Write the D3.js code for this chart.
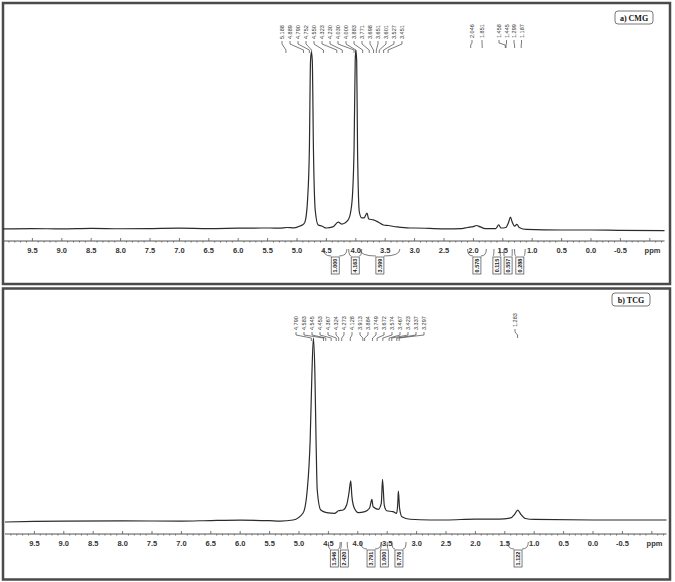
<!DOCTYPE html>
<html>
<head>
<meta charset="utf-8">
<script src="https://cdn.jsdelivr.net/npm/d3@7"></script>
<style>
  body { margin: 0; background: #fff; }
  svg { display: block; }
</style>
</head>
<body>
<script>
// ppm tick labels (same on both panels)
var ppmTicks = [9.5, 9.0, 8.5, 8.0, 7.5, 7.0, 6.5, 6.0, 5.5, 5.0, 4.5, 4.0, 3.5, 3.0, 2.5, 2.0, 1.5, 1.0, 0.5, 0.0, -0.5];

// a) CMG spectrum, [ppm, intensity %]
var cmgSpectrum = [
  [10.0, 0.6], [9.5, 0.8], [9.0, 0.6], [8.5, 0.9], [8.0, 0.7], [7.5, 0.8], [7.0, 1.0], [6.5, 0.8],
  [6.0, 1.0], [5.6, 1.1], [5.46, 1.1], [5.3, 1.0], [5.17, 1.4], [5.05, 1.2], [4.95, 2.2], [4.88, 3.5],
  [4.85, 6.5], [4.82, 17], [4.79, 44], [4.77, 94], [4.755, 99], [4.74, 94], [4.72, 44], [4.69, 11],
  [4.64, 2.8], [4.58, 2.2], [4.50, 1.1], [4.39, 1.7], [4.30, 4.4], [4.24, 3.3], [4.13, 5.6], [4.07, 13.9],
  [4.03, 44], [4.01, 94], [4.00, 100], [3.985, 94], [3.97, 44], [3.94, 10], [3.90, 6.7], [3.86, 6.7],
  [3.81, 9.4], [3.78, 6.1], [3.70, 5.6], [3.62, 4.4], [3.53, 2.8], [3.45, 2.5], [3.30, 1.7], [3.08, 1.1],
  [3.0, 1.1], [2.5, 0.6], [2.2, 0.8], [2.1, 1.4], [2.0, 1.9], [1.95, 2.5], [1.88, 1.7], [1.8, 0.8],
  [1.62, 0.8], [1.57, 2.8], [1.53, 1.1], [1.45, 1.4], [1.40, 4.4], [1.37, 7.2], [1.34, 4.4], [1.30, 2.2],
  [1.26, 3.1], [1.22, 1.4], [1.1, 0.3], [0.5, 0], [0.0, 0], [-0.5, -0.2], [-1.25, -0.3]
];
var cmgPeaksLeft = [5.188, 4.889, 4.790, 4.752, 4.550, 4.323, 4.230, 4.030, 4.000, 3.883, 3.771, 3.698, 3.651, 3.601, 3.527, 3.451];
var cmgPeaksMid = [2.046, 1.851];
var cmgPeaksRight = [1.458, 1.445, 1.299, 1.187];
// integrals: [from ppm, to ppm, value]
var cmgIntegrals = [
  [4.55, 4.15, "1.000"], [4.12, 3.90, "4.163"], [3.93, 3.25, "3.599"], [2.10, 1.78, "0.578"],
  [1.65, 1.55, "0.115"], [1.48, 1.34, "0.557"], [1.30, 1.12, "0.288"]
];

// b) TCG spectrum
var tcgSpectrum = [
  [10.0, 0], [9.5, 0.3], [9.0, 0.5], [8.0, 0.6], [7.0, 0.5], [6.5, 0.8], [6.0, 1.0], [5.5, 0.7],
  [5.32, 0.5], [5.10, 1.1], [4.93, 4.9], [4.86, 17.4], [4.81, 44.6], [4.78, 81], [4.755, 100], [4.73, 81],
  [4.71, 44.6], [4.69, 17.4], [4.63, 6.5], [4.53, 5.1], [4.39, 4.7], [4.33, 6.1], [4.25, 6.5], [4.19, 9.2],
  [4.15, 15.8], [4.12, 22.4], [4.10, 13.8], [4.06, 7.6], [3.99, 5.1], [3.88, 5.6], [3.80, 7.6], [3.76, 12.3],
  [3.74, 8.3], [3.65, 6.9], [3.60, 10.3], [3.58, 23.2], [3.55, 9.2], [3.51, 6.1], [3.40, 5.6], [3.34, 4.7],
  [3.32, 10.3], [3.31, 16.8], [3.29, 7.6], [3.25, 2.9], [3.11, 1.5], [2.77, 1.1], [2.5, 1.1], [2.0, 1.6],
  [1.6, 1.6], [1.4, 2.2], [1.33, 4.3], [1.28, 6.5], [1.23, 4.3], [1.15, 1.9], [1.0, 1.4], [0.0, 1.1], [-1.25, 1.1]
];
var tcgPeaksLeft = [4.790, 4.583, 4.545, 4.453, 4.367, 4.324, 4.273, 4.128, 3.913, 3.884, 3.749, 3.672, 3.574, 3.467, 3.423, 3.337, 3.297];
var tcgPeaksRight = [1.283];
var tcgIntegrals = [
  [4.50, 4.30, "1.546"], [4.28, 4.18, "2.420"], [3.95, 3.60, "3.791"], [3.60, 3.50, "1.000"],
  [3.42, 3.18, "0.776"], [1.45, 1.10, "1.122"]
];

var width = 675, height = 582;
var svg = d3.select("body").append("svg")
    .attr("width", width)
    .attr("height", height);

var ink = "#2b2b2b";
var sans = "Liberation Sans, Arial, sans-serif";

function drawPanel(p) {
  var g = svg.append("g");

  // frame
  g.append("rect")
      .attr("x", p.box[0]).attr("y", p.box[1])
      .attr("width", p.box[2]).attr("height", p.box[3])
      .attr("fill", "none").attr("stroke", "#4a4a4a").attr("stroke-width", 2.5);

  var x = d3.scaleLinear().domain([10, -1.25]).range(p.xRange);
  var y = d3.scaleLinear().domain([0, 100]).range([p.baseY, p.topY]);

  // axis line + ticks
  g.append("line")
      .attr("x1", x(10)).attr("x2", x(-1.25))
      .attr("y1", p.axisY).attr("y2", p.axisY)
      .attr("stroke", "#555").attr("stroke-width", 1);

  var minor = d3.range(99, -13, -1).map(function(d) { return d / 10; });
  g.append("g").selectAll("line")
      .data(minor)
      .enter().append("line")
      .attr("x1", function(d) { return x(d); })
      .attr("x2", function(d) { return x(d); })
      .attr("y1", p.axisY)
      .attr("y2", function(d) { return Math.abs(d * 2 - Math.round(d * 2)) < 0.01 ? p.axisY - 3 : p.axisY + 1.5; })
      .attr("stroke", "#555").attr("stroke-width", 0.8);

  g.append("g").selectAll("text")
      .data(ppmTicks)
      .enter().append("text")
      .attr("x", function(d) { return x(d); })
      .attr("y", p.axisY + 12)
      .attr("text-anchor", "middle")
      .attr("font-family", sans)
      .attr("font-weight", "bold")
      .attr("font-size", "7.5px")
      .attr("fill", "#333")
      .text(function(d) { return d.toFixed(1); });

  g.append("text")
      .attr("x", p.xRange[1] - 12)
      .attr("y", p.axisY + 12)
      .attr("text-anchor", "middle")
      .attr("font-family", sans)
      .attr("font-weight", "bold")
      .attr("font-size", "7.5px")
      .attr("fill", "#333")
      .text("ppm");

  // spectrum
  var line = d3.line()
      .x(function(d) { return x(d[0]); })
      .y(function(d) { return y(d[1]); })
      .curve(d3.curveMonotoneX);

  g.append("path")
      .datum(p.spectrum)
      .attr("d", line)
      .attr("fill", "none")
      .attr("stroke", ink)
      .attr("stroke-width", 1.2);

  // peak labels with leaders
  p.peakGroups.forEach(function(grp) {
    var lg = g.append("g");
    grp.values.forEach(function(v, i) {
      var lx = grp.startX + i * grp.step;
      var tx = x(v);
      lg.append("text")
          .attr("transform", "translate(" + (lx + 2) + "," + grp.textBottom + ") rotate(-90)")
          .attr("font-family", sans)
          .attr("font-size", "5.5px")
          .attr("fill", "#333")
          .text(v.toFixed(3));
      lg.append("path")
          .attr("d", "M" + lx + "," + (grp.textBottom + 2) +
                     "L" + lx + "," + (grp.textBottom + 5) +
                     "L" + tx + "," + (grp.leadEnd - 3) +
                     "L" + tx + "," + grp.leadEnd)
          .attr("fill", "none")
          .attr("stroke", "#444")
          .attr("stroke-width", 0.7);
    });
  });

  // integrals below the axis
  var ig = g.append("g");
  p.integrals.forEach(function(d) {
    var xa = x(d[0]), xb = x(d[1]);
    var lx = (xa + xb) / 2;
    var top = p.axisY + 16;
    ig.append("path")
        .attr("d", "M" + xa + "," + (p.axisY + 8) + "Q" + xa + "," + (top - 1) + " " + (lx - 4) + "," + (top - 1) +
                   "M" + xb + "," + (p.axisY + 8) + "Q" + xb + "," + (top - 1) + " " + (lx + 4) + "," + (top - 1))
        .attr("fill", "none")
        .attr("stroke", "#444")
        .attr("stroke-width", 0.7);
    ig.append("rect")
        .attr("x", lx - 4).attr("y", top)
        .attr("width", 8).attr("height", 17)
        .attr("fill", "none")
        .attr("stroke", "#444")
        .attr("stroke-width", 0.7);
    ig.append("text")
        .attr("transform", "translate(" + (lx + 2) + "," + (top + 8.5) + ") rotate(-90)")
        .attr("text-anchor", "middle")
        .attr("font-family", sans)
        .attr("font-weight", "bold")
        .attr("font-size", "5.5px")
        .attr("fill", "#222")
        .text(d[2]);
  });

  // title tag
  var tg = g.append("g");
  tg.append("rect")
      .attr("x", p.tag[0]).attr("y", p.tag[1])
      .attr("width", 38).attr("height", 13)
      .attr("rx", 3)
      .attr("fill", "#fff")
      .attr("stroke", "#555")
      .attr("stroke-width", 0.8);
  tg.append("text")
      .attr("x", p.tag[0] + 19).attr("y", p.tag[1] + 9.5)
      .attr("text-anchor", "middle")
      .attr("font-family", "Liberation Serif, Times New Roman, serif")
      .attr("font-weight", "bold")
      .attr("font-size", "8px")
      .attr("fill", "#111")
      .text(p.title);
}

drawPanel({
  box: [3, 3, 667, 281],
  xRange: [3, 664.5],
  baseY: 230, topY: 50, axisY: 241,
  spectrum: cmgSpectrum,
  peakGroups: [
    { values: cmgPeaksLeft, startX: 282, step: 8, textBottom: 39, leadEnd: 53 },
    { values: cmgPeaksMid, startX: 472, step: 10, textBottom: 38, leadEnd: 48 },
    { values: cmgPeaksRight, startX: 499, step: 7.5, textBottom: 38, leadEnd: 48 }
  ],
  integrals: cmgIntegrals,
  tag: [615, 11],
  title: "a) CMG"
});

drawPanel({
  box: [3, 288.5, 667, 291],
  xRange: [5, 666.5],
  baseY: 522, topY: 338, axisY: 534,
  spectrum: tcgSpectrum,
  peakGroups: [
    { values: tcgPeaksLeft, startX: 296, step: 8, textBottom: 330, leadEnd: 341 },
    { values: tcgPeaksRight, startX: 515, step: 8, textBottom: 327, leadEnd: 338 }
  ],
  integrals: tcgIntegrals,
  tag: [612, 293],
  title: "b) TCG"
});
</script>
</body>
</html>
